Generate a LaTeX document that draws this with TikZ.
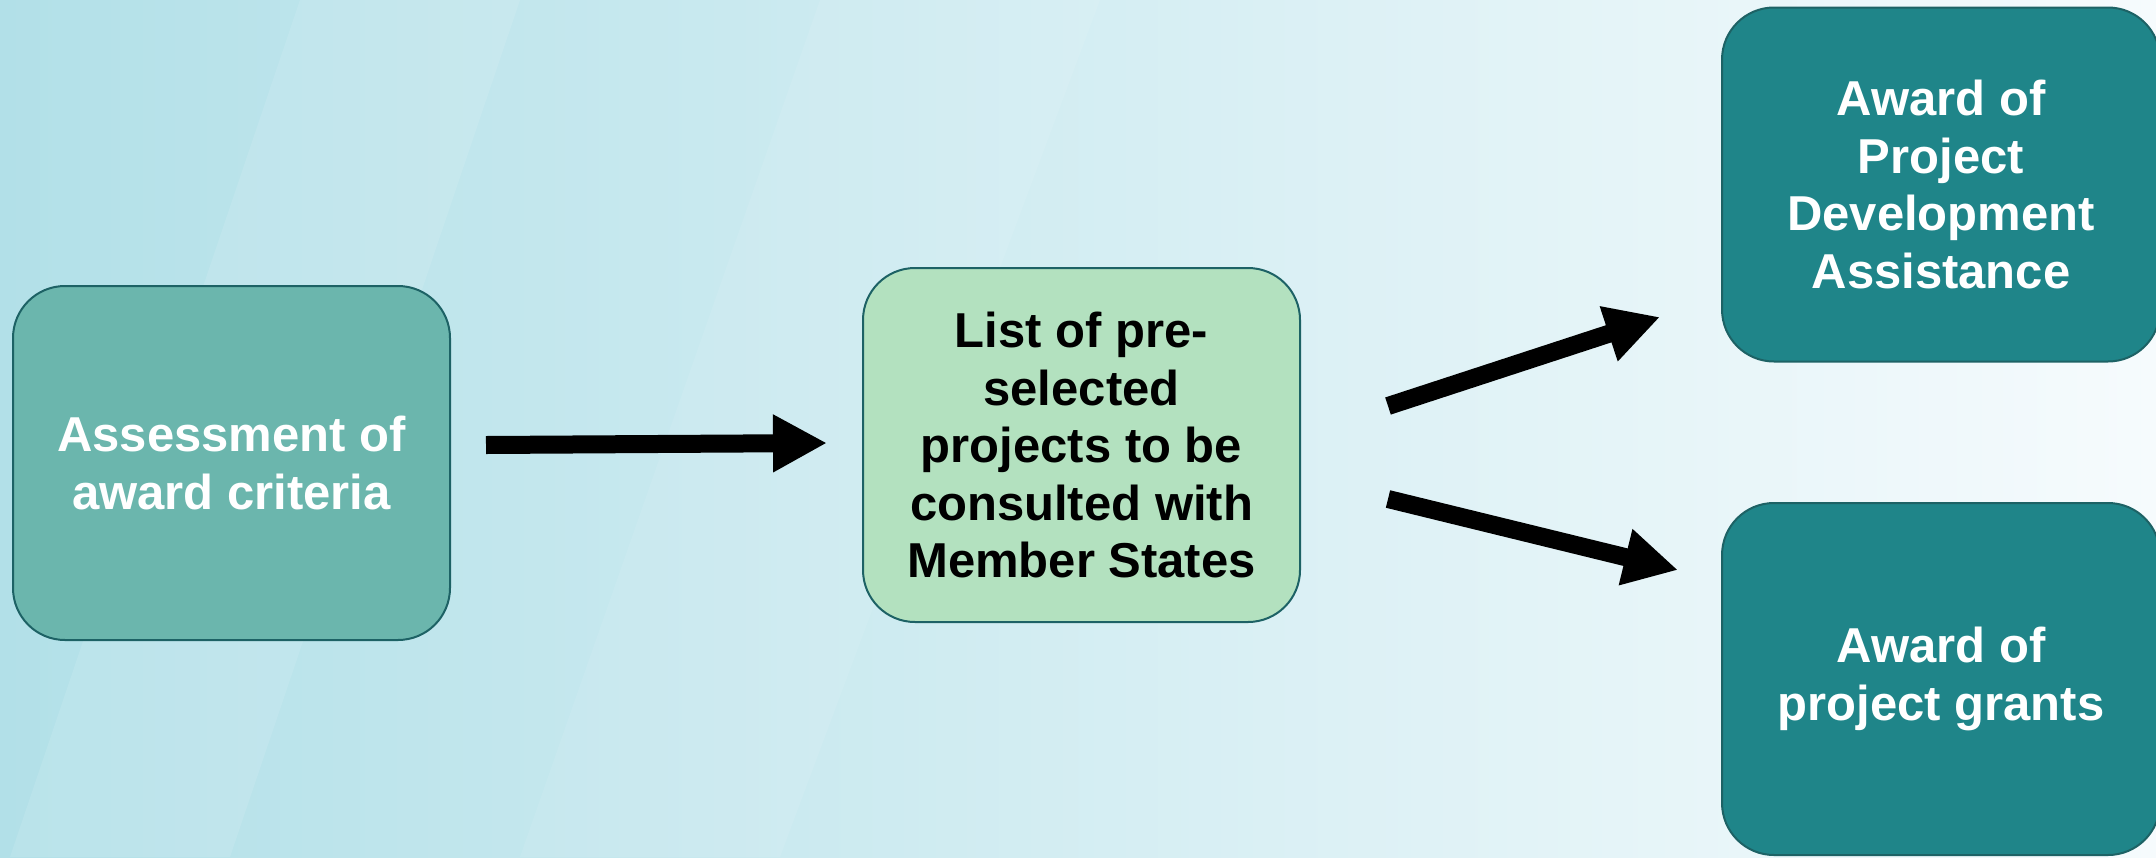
\documentclass[tikz,border=0pt]{standalone}
\usepackage{fontspec}
\setmainfont{Liberation Sans}
\usetikzlibrary{arrows.meta}
\definecolor{bgL}{RGB}{178,224,232}
\definecolor{bgM}{RGB}{210,237,242}
\definecolor{bgR}{RGB}{246,251,253}
\definecolor{fillA}{RGB}{107,182,173}
\definecolor{fillB}{RGB}{179,225,191}
\definecolor{fillC}{RGB}{31,133,137}
\definecolor{edgeA}{RGB}{29,98,101}
\tikzset{
  box/.style={draw=edgeA, line width=1pt, rounded corners=26pt, align=center,
    inner sep=0pt, font=\fontsize{24.5}{28.75}\selectfont\bfseries},
  boxA/.style={box, fill=fillA, text=white, minimum width=218.5pt, minimum height=177pt},
  boxB/.style={box, fill=fillB, text=black, minimum width=218.5pt, minimum height=177pt},
  boxC/.style={box, fill=fillC, text=white, minimum width=219pt, minimum height=177pt},
  bigarrow/.style={line width=9pt, -{Triangle[length=27pt,width=27pt]}}
}
\begin{document}
\begin{tikzpicture}[x=0.5pt,y=-0.5pt]
\useasboundingbox (0,0) rectangle (2156,857);
\shade[left color=bgL, middle color=bgM, right color=bgR] (0,0) rectangle (2156,857);
\fill[white, opacity=0.10] (300,0) -- (520,0) -- (230,857) -- (10,857) -- cycle;
\fill[white, opacity=0.08] (820,0) -- (1100,0) -- (780,857) -- (520,857) -- cycle;

\node[boxA] (assess) at (231.5,463) {Assessment of\\award criteria};
\node[boxB] (list) at (1081.5,445) {List of pre-\\selected\\projects to be\\consulted with\\Member States};
\node[boxC] (pda) at (1941,184.5) {Award of\\Project\\Development\\Assistance};
\node[boxC, minimum height=176pt] (grants) at (1941,679) {Award of\\project grants};

\coordinate (a1s) at (486,445);
\coordinate (a1e) at (827,443);
\coordinate (a2s) at (1388,406);
\coordinate (a2e) at (1660,317);
\coordinate (a3s) at (1388,499);
\coordinate (a3e) at (1678,570);
\draw[bigarrow] (a1s) -- (a1e);
\draw[bigarrow] (a2s) -- (a2e);
\draw[bigarrow] (a3s) -- (a3e);
\end{tikzpicture}
\end{document}
